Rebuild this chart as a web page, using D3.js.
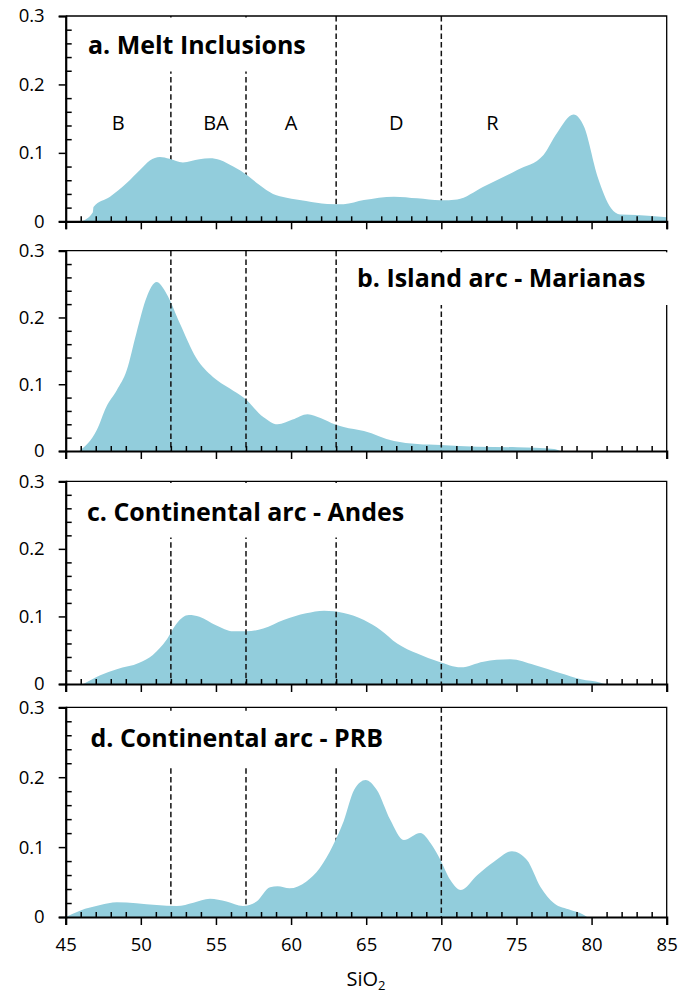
<!DOCTYPE html>
<html>
<head>
<meta charset="utf-8">
<script src="https://cdn.jsdelivr.net/npm/d3@7/dist/d3.min.js"></script>
<style>
  html, body { margin: 0; padding: 0; background: #fff; }
  svg { display: block; }
  text { font-family: "Open Sans", "Noto Sans", sans-serif; fill: #000; }
</style>
</head>
<body>
<svg id="chart" width="688" height="996"></svg>
<script>
// ---------------- DATA ----------------
const panelTitles = ["a. Melt Inclusions", "b. Island arc - Marianas", "c. Continental arc - Andes", "d. Continental arc - PRB"];

const meltX = [46.05, 46.8, 46.85, 47.95, 49.06, 49.94, 50.6, 51.27, 51.9, 52.8, 53.9, 54.6, 55.27, 56.15, 57.04, 57.9, 58.8, 59.7, 61.0, 62.4, 63.5, 64.85, 66.85, 68.4, 69.95, 71.05, 72.8, 75.05, 76.8, 77.7, 78.8, 79.5, 80.4, 81.3, 81.9, 83.0, 85.0];
const meltY = [0, 0.013, 0.021, 0.036, 0.056, 0.075, 0.089, 0.094, 0.0915, 0.086, 0.0906, 0.092, 0.0896, 0.080, 0.068, 0.053, 0.040, 0.0345, 0.0297, 0.0253, 0.025, 0.031, 0.036, 0.0336, 0.0307, 0.032, 0.0506, 0.075, 0.097, 0.129, 0.156, 0.138, 0.065, 0.019, 0.010, 0.0092, 0.0058];

const marianasX = [45.9, 47.06, 47.7, 48.4, 49.06, 49.7, 50.4, 51.05, 51.7, 52.6, 53.7, 54.8, 55.9, 56.9, 58.15, 59.1, 60.1, 61.1, 62.0, 62.9, 63.5, 64.85, 66.85, 68.4, 69.95, 72.4, 75.05, 77.5, 77.9];
const marianasY = [0, 0.031, 0.066, 0.091, 0.121, 0.176, 0.231, 0.253, 0.236, 0.191, 0.139, 0.111, 0.094, 0.079, 0.051, 0.040, 0.047, 0.055, 0.049, 0.040, 0.036, 0.030, 0.015, 0.0105, 0.009, 0.0065, 0.0055, 0.003, 0];

const andesX = [46.17, 47.3, 48.4, 49.9, 50.8, 51.7, 52.4, 53.2, 53.9, 55.0, 56.15, 57.04, 58.15, 59.5, 61.0, 62.2, 63.5, 64.85, 65.95, 67.06, 68.4, 69.84, 71.3, 72.8, 74.6, 76.2, 77.95, 79.3, 80.6, 80.9];
const andesY = [0, 0.013, 0.022, 0.0315, 0.043, 0.065, 0.090, 0.102, 0.0996, 0.087, 0.078, 0.078, 0.082, 0.0947, 0.1046, 0.1085, 0.105, 0.0947, 0.080, 0.060, 0.045, 0.033, 0.0247, 0.033, 0.0365, 0.028, 0.0158, 0.007, 0.002, 0];

const prbX = [45.0, 45.95, 47.3, 48.4, 49.7, 51.05, 52.4, 53.5, 54.6, 55.7, 56.8, 57.7, 58.6, 59.1, 59.9, 61.0, 61.9, 62.8, 63.5, 64.2, 64.96, 65.7, 66.6, 67.5, 68.6, 69.3, 69.84, 70.6, 71.3, 72.4, 73.5, 74.7, 75.7, 76.6, 77.5, 78.6, 79.4, 79.7];
const prbY = [0, 0.009, 0.017, 0.021, 0.0196, 0.017, 0.0157, 0.0205, 0.026, 0.022, 0.0157, 0.022, 0.0425, 0.044, 0.041, 0.0505, 0.0697, 0.103, 0.137, 0.182, 0.196, 0.182, 0.139, 0.110, 0.120, 0.105, 0.086, 0.053, 0.0386, 0.060, 0.079, 0.094, 0.0815, 0.043, 0.0196, 0.010, 0.004, 0];

const boundaries = [52, 57, 63, 70];
const rockLabels = ["B", "BA", "A", "D", "R"];
const rockLabelX = [48.5, 55, 60, 67, 73.4];
const rockLabelLevel = 0.133;

const xMajorTicks = [45, 50, 55, 60, 65, 70, 75, 80, 85];
const xMinorTicks = d3.range(46, 85, 1).filter(v => v % 5 !== 0);
const yMajorTicks = [0, 0.1, 0.2, 0.3];
const yMinorTicks = [0.02, 0.04, 0.06, 0.08, 0.12, 0.14, 0.16, 0.18, 0.22, 0.24, 0.26, 0.28];
const xAxisTitle = "SiO";
const xAxisTitleSub = "2";

// ---------------- LAYOUT / STYLE ----------------
const fillColor = "#92CDDC";
const xLeft = 65.7, xRight = 666.7;
const panels = [
  { xs: meltX, ys: meltY, top: 16, bottom: 221.3, titleX: 88, titleY: 54,
    box: [70, 17.5, 325, 71.5], linesOver: [false, false, false, false] },
  { xs: marianasX, ys: marianasY, top: 250.7, bottom: 451, titleX: 357, titleY: 286.5,
    box: [345, 252.3, 672, 305], linesOver: [true, true, true, true] },
  { xs: andesX, ys: andesY, top: 481.3, bottom: 684, titleX: 87, titleY: 521,
    box: [70, 483, 430, 537.5], linesOver: [true, true, true, true] },
  { xs: prbX, ys: prbY, top: 707.3, bottom: 917, titleX: 90.5, titleY: 746.5,
    box: [70, 710.8, 430, 766], linesOver: [false, false, false, true] }
];
const titleTargetTotal = 219 + 288 + 317 + 292;

const svg = d3.select("#chart");
const x = d3.scaleLinear().domain([45, 85]).range([xLeft, xRight]);

panels.forEach((p, i) => {
  const y = d3.scaleLinear().domain([0, 0.3]).range([p.bottom, p.top]);
  const g = svg.append("g");
  const data = p.xs.map((v, k) => [v, p.ys[k]]);

  const area = d3.area()
    .x(d => x(d[0]))
    .y0(y(0))
    .y1(d => y(d[1]))
    .curve(d3.curveMonotoneX);

  const drawLines = (over) => {
    boundaries.forEach((b, k) => {
      if (p.linesOver[k] !== over) return;
      g.append("line")
        .attr("x1", x(b)).attr("x2", x(b))
        .attr("y1", y(0.3)).attr("y2", y(0))
        .attr("stroke", "#111").attr("stroke-width", 1.5)
        .attr("stroke-dasharray", "5.5,3.2");
    });
  };

  drawLines(false);
  g.append("path").datum(data).attr("d", area).attr("fill", fillColor);
  drawLines(true);

  // frame (top, right)
  g.append("path")
    .attr("d", `M${xLeft},${p.top}H${xRight}V${p.bottom}`)
    .attr("fill", "none").attr("stroke", "#000").attr("stroke-width", 1.3);

  // title box
  g.append("rect")
    .attr("x", p.box[0]).attr("y", p.box[1])
    .attr("width", p.box[2] - p.box[0]).attr("height", p.box[3] - p.box[1])
    .attr("fill", "#fff");

  // y axis major
  const yAx = g.append("g").attr("transform", `translate(${xLeft},0)`)
    .call(d3.axisLeft(y).tickValues(yMajorTicks).tickSize(7).tickPadding(14)
      .tickFormat(d => d === 0 ? "0" : d3.format(".1f")(d)));
  yAx.select(".domain").attr("stroke-width", 2.2);
  yAx.selectAll(".tick line").attr("stroke-width", 1.5);
  yAx.selectAll("text").style("font-size", "18.5px").attr("font-family", null);

  // y axis minor (inward)
  const yMin = g.append("g").attr("transform", `translate(${xLeft},0)`)
    .call(d3.axisRight(y).tickValues(yMinorTicks).tickSize(6).tickFormat(""));
  yMin.select(".domain").remove();
  yMin.selectAll(".tick line").attr("stroke-width", 1.5);

  // x axis major
  const xAx = g.append("g").attr("transform", `translate(0,${p.bottom})`)
    .call(d3.axisBottom(x).tickValues(xMajorTicks).tickSize(8).tickPadding(13)
      .tickFormat(i === panels.length - 1 ? d3.format("d") : ""));
  xAx.select(".domain").attr("stroke-width", 2.2);
  xAx.selectAll(".tick line").attr("stroke-width", 1.5);
  xAx.selectAll("text").style("font-size", "18.5px").attr("font-family", null);

  // x axis minor (inward)
  const xMin = g.append("g").attr("transform", `translate(0,${p.bottom})`)
    .call(d3.axisTop(x).tickValues(xMinorTicks).tickSize(5).tickFormat(""));
  xMin.select(".domain").remove();
  xMin.selectAll(".tick line").attr("stroke-width", 1.5);

  // title
  g.append("text").attr("class", "ptitle")
    .attr("x", p.titleX).attr("y", p.titleY)
    .style("font-weight", "bold").style("font-size", "24px")
    .text(panelTitles[i]);

  // rock type labels in panel a
  if (i === 0) {
    rockLabels.forEach((lab, k) => {
      g.append("text")
        .attr("x", x(rockLabelX[k])).attr("y", y(rockLabelLevel))
        .attr("text-anchor", "middle")
        .style("font-size", "20px")
        .text(lab);
    });
  }
});

// fit title font size to reference width
let measured = 0;
svg.selectAll(".ptitle").each(function () { measured += this.getComputedTextLength(); });
const fs = 24 * titleTargetTotal / measured;
svg.selectAll(".ptitle").style("font-size", fs + "px");

// x-axis title
const xt = svg.append("text").attr("x", 366).attr("y", 986)
  .attr("text-anchor", "middle").style("font-size", "20px");
xt.append("tspan").text(xAxisTitle);
xt.append("tspan").attr("dy", 4).style("font-size", "13px").text(xAxisTitleSub);
</script>
</body>
</html>
